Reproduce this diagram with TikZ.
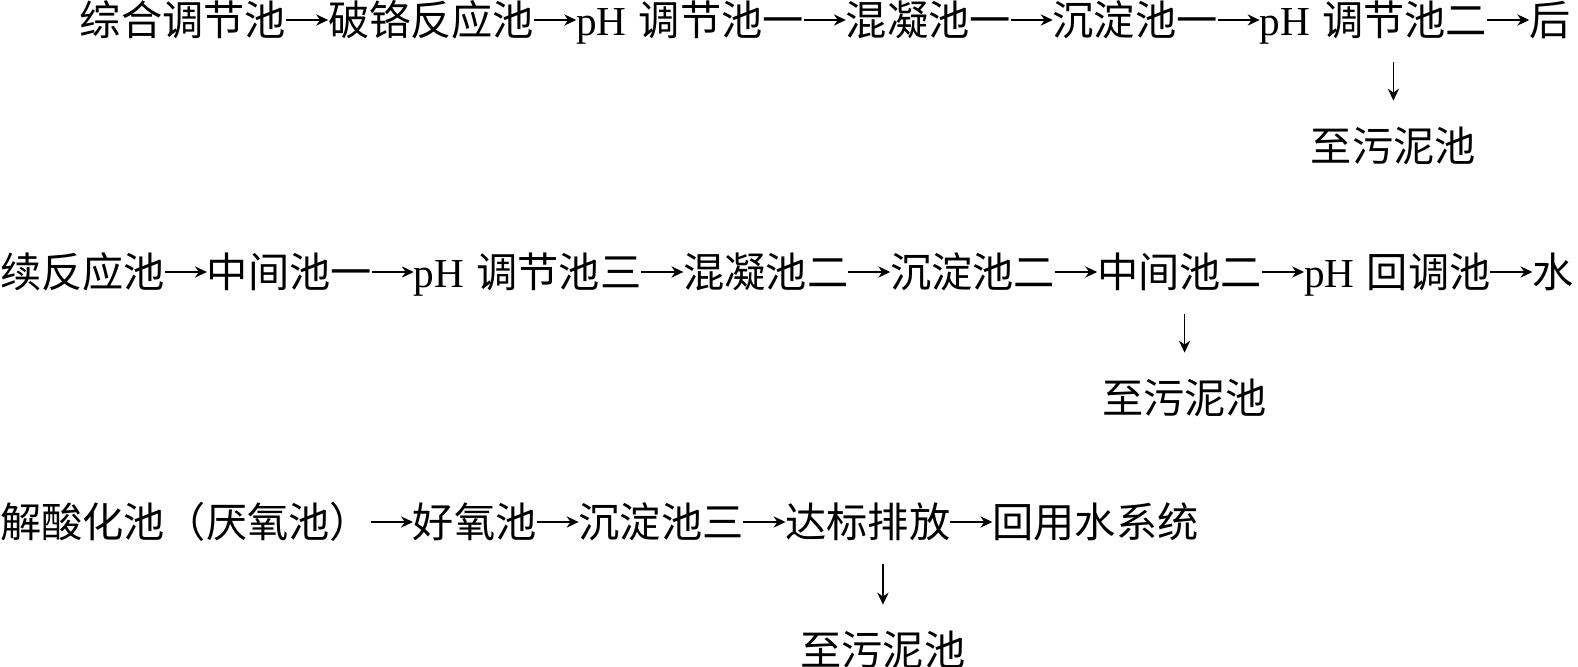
\documentclass[tikz,border=0pt]{standalone}
\usepackage{fontspec}
\setmainfont{Liberation Serif}
\newfontfamily\cjkfont{Noto Sans CJK SC}
\usepackage{tikz}
\usetikzlibrary{arrows.meta,positioning}
\newcommand{\phx}{{\rmfamily pH}\hspace{0.3em}}

\begin{document}
\begin{tikzpicture}[x=0.01cm, y=-0.01cm,
		pool/.style={inner sep=0pt, outer sep=0pt, text height=10.3pt, text depth=1.4pt,
			font=\cjkfont\fontsize{11.72pt}{14pt}\selectfont},
		arr/.style={-{Stealth[length=3.4pt,width=3.2pt]}, line width=0.4pt},
		down/.style={arr, shorten <=0.21cm, shorten >=0.25cm},
		node distance=0.42cm
		]
		\useasboundingbox (0,0) rectangle (1578,667);
		
		% ligne 1
		\node[pool, anchor=west] (zhtj) at (80,20) {综合调节池};
		\node[pool, right=of zhtj] (pgfy) {破铬反应池};
		\node[pool, right=of pgfy] (tj1)  {\phx 调节池一};
		\node[pool, right=of tj1]  (hn1)  {混凝池一};
		\node[pool, right=of hn1]  (cd1)  {沉淀池一};
		\node[pool, right=of cd1]  (tj2)  {\phx 调节池二};
		\node[pool, right=of tj2]  (hou)  {后};
		\node[pool, below=0.85cm of tj2, xshift=0.2cm] (wn1) {至污泥池};
		
		% ligne 2
		\node[pool, anchor=west] (xfy) at (0,272) {续反应池};
		\node[pool, right=of xfy] (zj1)  {中间池一};
		\node[pool, right=of zj1] (tj3)  {\phx 调节池三};
		\node[pool, right=of tj3] (hn2)  {混凝池二};
		\node[pool, right=of hn2] (cd2)  {沉淀池二};
		\node[pool, right=of cd2] (zj2)  {中间池二};
		\node[pool, right=of zj2] (htc)  {\phx 回调池};
		\node[pool, right=of htc] (shui) {水};
		\node[pool, below=0.85cm of zj2, xshift=0.05cm] (wn2) {至污泥池};
		
		% ligne 3
		\node[pool, anchor=west] (sjsh) at (0,522) {解酸化池（厌氧池）};
		\node[pool, right=of sjsh] (hyc)  {好氧池};
		\node[pool, right=of hyc]  (cd3)  {沉淀池三};
		\node[pool, right=of cd3]  (dbpf) {达标排放};
		\node[pool, right=of dbpf] (hys)  {回用水系统};
		\node[pool, below=0.87cm of dbpf, xshift=0.15cm] (wn3) {至污泥池};
		
		\foreach \a/\b in {zhtj/pgfy, pgfy/tj1, tj1/hn1, hn1/cd1, cd1/tj2, tj2/hou,
			xfy/zj1, zj1/tj3, tj3/hn2, hn2/cd2, cd2/zj2, zj2/htc, htc/shui,
			sjsh/hyc, hyc/cd3, cd3/dbpf, dbpf/hys}
		\draw[arr] (\a) -- (\b);
		
		\draw[down] (tj2.south -| wn1) -- (wn1);
		\draw[down] (zj2.south -| wn2) -- (wn2);
		\draw[down] (dbpf.south -| wn3) -- (wn3);
\end{tikzpicture}
\end{document}
